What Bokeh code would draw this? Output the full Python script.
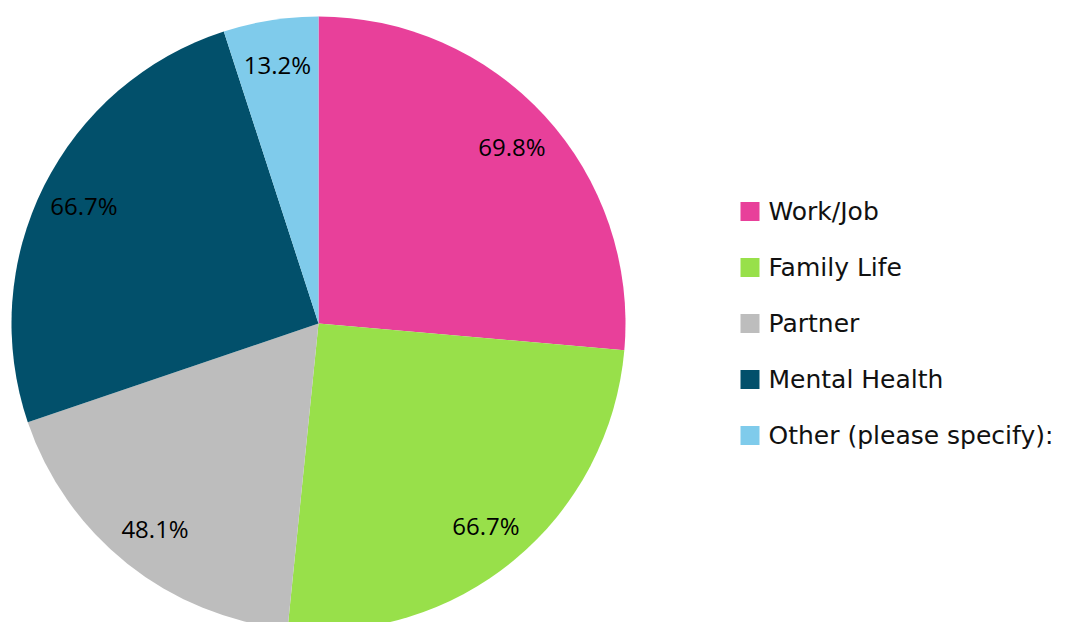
import math
from bokeh.plotting import figure
from bokeh.models import ColumnDataSource, Range1d
from bokeh.core.properties import value
from bokeh.embed import file_html
from bokeh.resources import INLINE

categories = ["Work/Job", "Family Life", "Partner", "Mental Health", "Other (please specify):"]
values = [69.8, 66.7, 48.1, 66.7, 13.2]
labels = ["69.8%", "66.7%", "48.1%", "66.7%", "13.2%"]
colors = ["#E8409A", "#98E04A", "#BDBDBD", "#02506B", "#7FCBEB"]

W, H = 1072, 622
CX, CY, R = 318, H - 323, 307

total = sum(values)
starts, ends, lx, ly = [], [], [], []
cum = 0.0
for v in values:
    a0 = math.pi / 2 - 2 * math.pi * cum / total
    cum += v
    a1 = math.pi / 2 - 2 * math.pi * cum / total
    starts.append(a0)
    ends.append(a1)
    mid = (a0 + a1) / 2
    lx.append(CX + 0.855 * R * math.cos(mid))
    ly.append(CY + 0.855 * R * math.sin(mid))

src = ColumnDataSource(dict(start=starts, end=ends, color=colors, lx=lx, ly=ly, label=labels))

p = figure(width=W, height=H, output_backend="svg", toolbar_location=None,
           x_range=Range1d(0, W), y_range=Range1d(0, H), min_border=0)
p.axis.visible = False
p.grid.visible = False
p.outline_line_color = None
p.background_fill_color = "white"

p.wedge(x=CX, y=CY, radius=R, start_angle="start", end_angle="end", direction="clock",
        fill_color="color", line_color=None, source=src)
p.text(x="lx", y="ly", text="label", source=src, text_align="center", text_baseline="middle",
       text_font=value("Open Sans"), text_font_size="24px", text_color="#000000")

# legend
leg_x = [749.5] * len(categories)
leg_y = [H - (211 + 56 * i) for i in range(len(categories))]
lsrc = ColumnDataSource(dict(x=leg_x, y=leg_y, color=colors, name=categories,
                             tx=[x + 18.5 for x in leg_x]))
p.rect(x="x", y="y", width=19, height=19, fill_color="color", line_color=None, source=lsrc)
p.text(x="tx", y="y", text="name", source=lsrc, text_align="left", text_baseline="middle",
       text_font=value("DejaVu Sans"), text_font_size="25px", text_color="#111111")

open("out.html", "w").write(file_html(p, INLINE))
